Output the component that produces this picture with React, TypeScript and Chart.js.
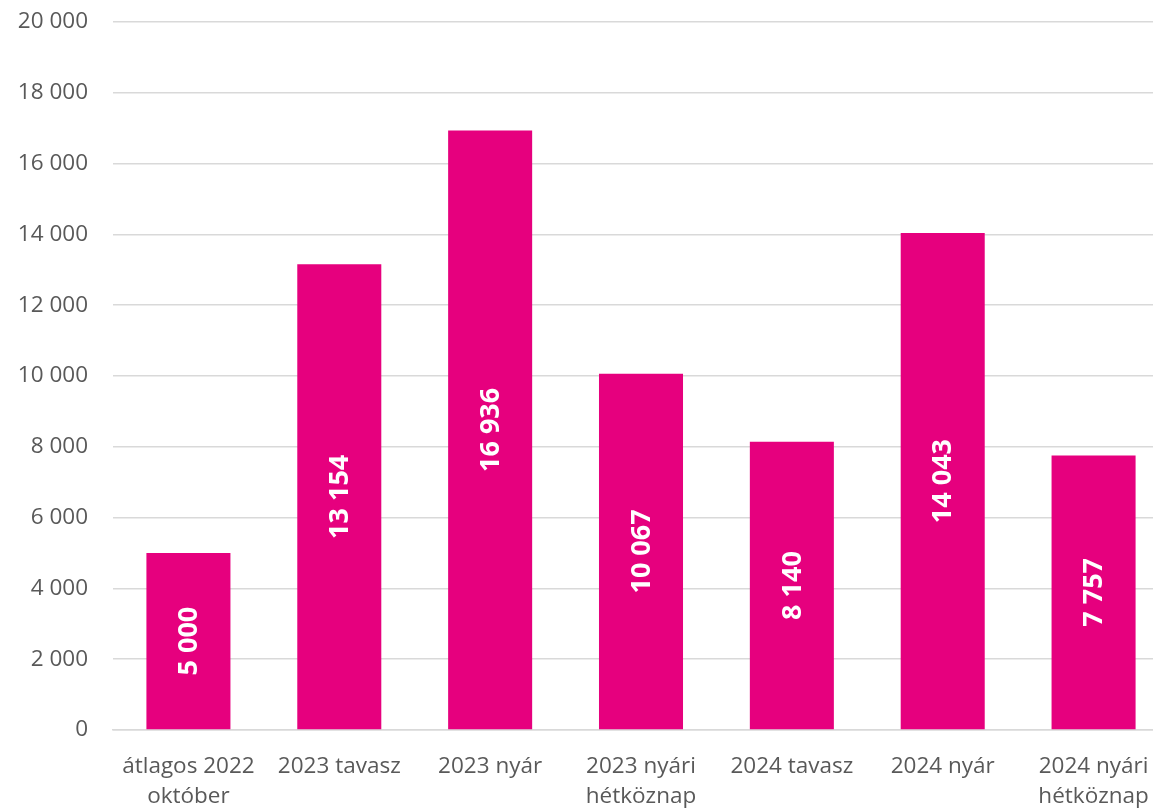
import React, { useEffect, useRef } from "react";
import { Chart, registerables } from "chart.js";

Chart.register(...registerables);

const categories: (string | string[])[] = [
  ["átlagos 2022", "október"],
  "2023 tavasz",
  "2023 nyár",
  ["2023 nyári", "hétköznap"],
  "2024 tavasz",
  "2024 nyár",
  ["2024 nyári", "hétköznap"],
];
const values: number[] = [5000, 13154, 16936, 10067, 8140, 14043, 7757];
const barColor = "#E6007E";
const FONT = "'Open Sans', 'Noto Sans', sans-serif";

const fmt = (v: number) =>
  Math.round(v)
    .toString()
    .replace(/\B(?=(\d{3})+(?!\d))/g, " ");

const labelPlugin = {
  id: "barLabels",
  afterDatasetsDraw(chart: any) {
    const ctx = chart.ctx;
    const meta = chart.getDatasetMeta(0);
    ctx.save();
    ctx.fillStyle = "#ffffff";
    ctx.font = `bold 27px ${FONT}`;
    ctx.textAlign = "center";
    ctx.textBaseline = "middle";
    meta.data.forEach((bar: any, i: number) => {
      const cx = bar.x;
      const cy = (bar.y + bar.base) / 2;
      ctx.save();
      ctx.translate(cx, cy);
      ctx.rotate(-Math.PI / 2);
      ctx.fillText(fmt(values[i]), 0, 1);
      ctx.restore();
    });
    ctx.restore();
  },
};

export default function App() {
  const ref = useRef<HTMLCanvasElement | null>(null);
  useEffect(() => {
    document.body.style.margin = "0";
    document.body.style.overflow = "hidden";
    document.documentElement.style.overflow = "hidden";
    const chart = new Chart(ref.current!, {
      type: "bar",
      data: {
        labels: categories,
        datasets: [
          {
            data: values,
            backgroundColor: barColor,
            borderWidth: 0,
            barPercentage: 0.557,
            categoryPercentage: 1,
          },
        ],
      },
      options: {
        animation: false,
        responsive: false,
        maintainAspectRatio: false,
        layout: { padding: { top: 22, right: 0, left: 0, bottom: 0 } },
        plugins: { legend: { display: false }, tooltip: { enabled: false } },
        scales: {
          x: {
            grid: { display: false, drawTicks: false },
            border: { display: true, color: "#d9d9d9", width: 1.5 },
            ticks: {
              color: "#595959",
              font: { family: FONT, size: 22.5, lineHeight: 1.33 },
              padding: 22,
              maxRotation: 0,
              autoSkip: false,
            },
            afterFit(scale: any) {
              scale.height = 78;
              scale.paddingLeft = 0;
              scale.paddingRight = 0;
            },
          },
          y: {
            min: 0,
            max: 20000,
            grid: { color: "#d9d9d9", lineWidth: 1.5, drawTicks: false },
            border: { display: false },
            ticks: {
              stepSize: 2000,
              color: "#595959",
              font: { family: FONT, size: 22.5 },
              padding: 25,
              callback: (v: any) => fmt(Number(v)),
            },
            afterFit(scale: any) {
              scale.width = 113;
              scale.paddingTop = 0;
              scale.paddingBottom = 0;
            },
          },
        },
      },
      plugins: [labelPlugin],
    });
    return () => chart.destroy();
  }, []);
  return (
    <div style={{ width: 1169, height: 808, overflow: "hidden" }}>
      <canvas ref={ref} width={1169} height={808} style={{ display: "block" }} />
    </div>
  );
}
